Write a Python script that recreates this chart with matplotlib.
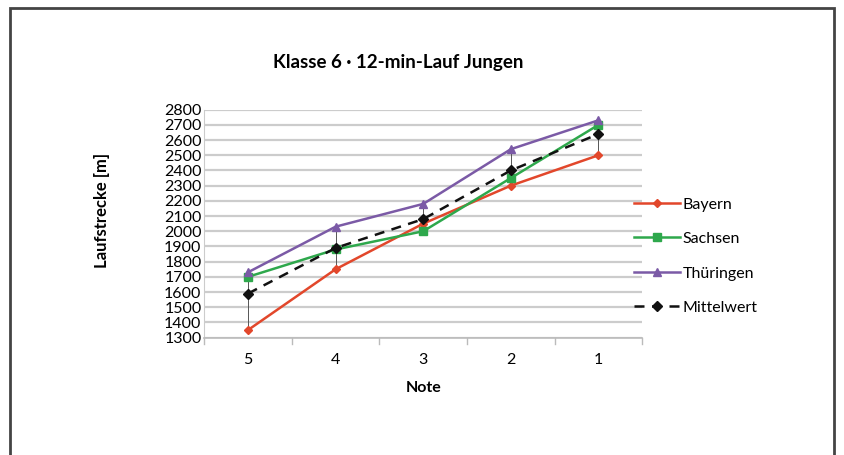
import matplotlib.pyplot as plt
from matplotlib.patches import Rectangle

plt.rcParams['font.family'] = ['Lato', 'DejaVu Sans']

# Data
noten = ['5', '4', '3', '2', '1']
bayern = [1350, 1750, 2050, 2300, 2500]
sachsen = [1700, 1880, 2000, 2350, 2700]
thueringen = [1730, 2030, 2180, 2540, 2730]
mittelwert = [1590, 1890, 2080, 2400, 2640]
y_ticks = list(range(1300, 2801, 100))

fig = plt.figure(figsize=(8.44, 4.55), dpi=100)
ax = fig.add_axes([0.242, 0.258, 0.519, 0.501])

x = list(range(len(noten)))

# high-low lines (min to max per category)
for i in x:
    vals = [bayern[i], sachsen[i], thueringen[i], mittelwert[i]]
    ax.plot([i, i], [min(vals), max(vals)], color='#555555', lw=0.7, zorder=2)

ax.plot(x, bayern, color='#e2472b', lw=1.8, marker='D', ms=4.5, label='Bayern', zorder=3)
ax.plot(x, sachsen, color='#2ea84c', lw=1.8, marker='s', ms=5.5, label='Sachsen', zorder=3)
ax.plot(x, thueringen, color='#7b5aa6', lw=1.8, marker='^', ms=6, label='Thüringen', zorder=3)
ax.plot(x, mittelwert, color='#111111', lw=1.8, ls=(0, (4, 3)), marker='D', ms=5,
        label='Mittelwert', zorder=4)

ax.set_xlim(-0.5, 4.5)
ax.set_ylim(1300, 2800)
ax.set_yticks(y_ticks)
ax.set_yticklabels([str(v) for v in y_ticks], fontsize=11.5)
ax.set_xticks(x)
ax.set_xticklabels(noten, fontsize=11.5)
ax.tick_params(axis='x', length=0, pad=11)
ax.tick_params(axis='y', length=0, pad=2)
# category boundary tick marks
for b in [-0.5, 0.5, 1.5, 2.5, 3.5, 4.5]:
    ax.plot([b, b], [1300, 1260], color='#bbbbbb', lw=1, clip_on=False, zorder=1)

ax.grid(axis='y', color='#cccccc', lw=1.6)
ax.set_axisbelow(True)
for s in ['top', 'right']:
    ax.spines[s].set_visible(False)
ax.spines['left'].set_color('#cccccc')
ax.spines['bottom'].set_color('#bbbbbb')
ax.spines['bottom'].set_linewidth(1.2)

ax.set_xlabel('Note', fontsize=11.5, fontweight='bold', labelpad=10)
ax.set_ylabel('Laufstrecke [m]', fontsize=12, fontweight='bold')
ax.yaxis.set_label_coords(-0.215, 0.56)

fig.text(0.472, 0.863, 'Klasse 6 · 12-min-Lauf Jungen', ha='center', va='center',
         fontsize=13.5, fontweight='bold')

ax.legend(loc='center left', bbox_to_anchor=(0.948, 0.357), frameon=False,
          fontsize=11.5, handlelength=2.9, handletextpad=0.15, labelspacing=1.27)

# outer frame
fig.patches.append(Rectangle((10 / 844, -0.05), 824 / 844, 1 - 8 / 455 + 0.05,
                             transform=fig.transFigure, fill=False,
                             edgecolor='#444444', lw=2))

fig.savefig('out.png', dpi=100)
